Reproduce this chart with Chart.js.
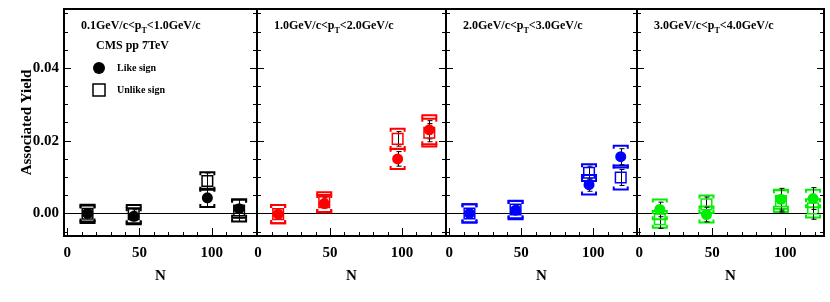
<!DOCTYPE html>
<html>
<head>
<meta charset="utf-8">
<script src="https://cdn.jsdelivr.net/npm/chart.js@4.4.0/dist/chart.umd.min.js"></script>
<style>
  body { margin: 0; background: #fff; width: 830px; height: 302px; position: relative; overflow: hidden; }
  canvas { position: absolute; top: 0; }
</style>
</head>
<body>
<canvas id="c0"></canvas>
<canvas id="c1"></canvas>
<canvas id="c2"></canvas>
<canvas id="c3"></canvas>
<script>
// Data
const N = [14, 46, 97, 119];
const ptBins = [['0.1', '1.0'], ['1.0', '2.0'], ['2.0', '3.0'], ['3.0', '4.0']];
const colors = ['#000000', '#ff0000', '#0000ff', '#00ee00'];
const yTicks = [0, 0.02, 0.04];
const xTicks = [0, 50, 100];

// like sign (filled circles)
const like = [
  [0.0000, -0.0008, 0.0043, 0.0013],
  [-0.0002, 0.0027, 0.0150, 0.0230],
  [0.0000, 0.0009, 0.0079, 0.0156],
  [0.0011, -0.0003, 0.0039, 0.0041]
];
const likeStat = [
  [0.0010, 0.0012, 0.0025, 0.0025],
  [0.0010, 0.0012, 0.0020, 0.0025],
  [0.0010, 0.0010, 0.0018, 0.0022],
  [0.0020, 0.0020, 0.0030, 0.0030]
];
const likeSys = [
  [0.0022, 0.0022, 0.0025, 0.0025],
  [0.0025, 0.0024, 0.0028, 0.0040],
  [0.0025, 0.0025, 0.0027, 0.0030],
  [0.0027, 0.0022, 0.0026, 0.0024]
];

// unlike sign (open squares)
const unlike = [
  [-0.0001, -0.0002, 0.0089, 0.0008],
  [-0.0002, 0.0031, 0.0205, 0.0222],
  [0.0000, 0.0011, 0.0112, 0.0099],
  [-0.0016, 0.0025, 0.0034, 0.0014]
];
const unlikeStat = [
  [0.0010, 0.0012, 0.0022, 0.0030],
  [0.0010, 0.0012, 0.0020, 0.0025],
  [0.0010, 0.0010, 0.0018, 0.0022],
  [0.0025, 0.0020, 0.0030, 0.0030]
];
const unlikeSys = [
  [0.0025, 0.0025, 0.0024, 0.0030],
  [0.0025, 0.0027, 0.0028, 0.0038],
  [0.0025, 0.0024, 0.0023, 0.0033],
  [0.0023, 0.0024, 0.0030, 0.0025]
];

// panel frames in page pixels, and x ranges
const frameL = [64, 257, 446, 637];
const frameR = [257, 446, 637, 824];
const xMin = [-2.3, -0.7, -2.3, -1.6];
const xMax = [131.4, 130.6, 130.3, 126.5];
const yMin = -0.0062, yMax = 0.0562;

const SERIF = '"Liberation Serif", "DejaVu Serif", serif';
const PAD = 30;

function seg(ctx, x1, y1, x2, y2) {
  ctx.beginPath(); ctx.moveTo(x1, y1); ctx.lineTo(x2, y2); ctx.stroke();
}

function drawErrors(ctx, x, y, k, vals, stat, sys) {
  for (let i = 0; i < N.length; i++) {
    const px = x.getPixelForValue(N[i]);
    // systematic brackets
    ctx.strokeStyle = colors[k];
    ctx.lineWidth = 2;
    const yt = y.getPixelForValue(vals[i] + sys[i]);
    const yb = y.getPixelForValue(vals[i] - sys[i]);
    ctx.beginPath();
    ctx.moveTo(px - 7, yt + 3); ctx.lineTo(px - 7, yt); ctx.lineTo(px + 7, yt); ctx.lineTo(px + 7, yt + 3);
    ctx.moveTo(px - 7, yb - 3); ctx.lineTo(px - 7, yb); ctx.lineTo(px + 7, yb); ctx.lineTo(px + 7, yb - 3);
    ctx.stroke();
    // statistical bar
    ctx.strokeStyle = '#000';
    ctx.lineWidth = 1;
    const st = y.getPixelForValue(vals[i] + stat[i]);
    const sb = y.getPixelForValue(vals[i] - stat[i]);
    const cx = Math.round(px) + 0.5;
    seg(ctx, cx, st, cx, sb);
    seg(ctx, cx - 2, st, cx + 3, st);
    seg(ctx, cx - 2, sb, cx + 3, sb);
  }
}

function ptLabel(ctx, x0, yb, lo, hi) {
  ctx.fillStyle = '#000';
  ctx.textBaseline = 'alphabetic';
  ctx.textAlign = 'left';
  ctx.font = 'bold 12px ' + SERIF;
  let s = lo + 'GeV/c<p';
  ctx.fillText(s, x0, yb);
  let w = ctx.measureText(s).width;
  ctx.font = 'bold 8px ' + SERIF;
  ctx.fillText('T', x0 + w, yb + 4);
  w += ctx.measureText('T').width;
  ctx.font = 'bold 12px ' + SERIF;
  ctx.fillText('<' + hi + 'GeV/c', x0 + w, yb);
}

const panelPlugin = {
  id: 'panel',
  beforeDatasetsDraw(chart, args, opts) {
    const k = opts.index;
    const { ctx, chartArea: a, scales: { x, y } } = chart;
    ctx.save();
    ctx.strokeStyle = '#000';
    ctx.lineWidth = 1;
    const y0 = Math.round(y.getPixelForValue(0)) + 0.5;
    seg(ctx, a.left, y0, a.right, y0);
    drawErrors(ctx, x, y, k, unlike[k], unlikeStat[k], unlikeSys[k]);
    drawErrors(ctx, x, y, k, like[k], likeStat[k], likeSys[k]);
    ctx.restore();
  },
  afterDraw(chart, args, opts) {
    const k = opts.index;
    const { ctx, chartArea: a, scales: { x, y } } = chart;
    ctx.save();
    ctx.strokeStyle = '#000';
    ctx.lineWidth = 1;
    // y ticks on both sides, pointing inward
    for (let t = -5; t <= 55; t += 5) {
      const v = t / 1000;
      const py = Math.round(y.getPixelForValue(v)) + 0.5;
      if (py < a.top + 2 || py > a.bottom - 2) continue;
      const len = (t % 20 === 0) ? 7 : 4;
      seg(ctx, a.left, py, a.left + len, py);
      seg(ctx, a.right - len, py, a.right, py);
    }
    // x ticks, pointing up from the bottom
    for (let t = 0; t <= 130; t += 10) {
      const px = Math.round(x.getPixelForValue(t)) + 0.5;
      if (px < a.left + 2 || px > a.right - 2) continue;
      const len = (t % 50 === 0) ? 8 : 4;
      seg(ctx, px, a.bottom, px, a.bottom - len);
    }
    // frame
    ctx.lineWidth = 2;
    ctx.strokeRect(a.left, a.top, a.right - a.left, a.bottom - a.top);

    ptLabel(ctx, a.left + 17, 29, ptBins[k][0], ptBins[k][1]);

    if (k === 0) {
      ctx.fillStyle = '#000';
      ctx.font = 'bold 12px ' + SERIF;
      ctx.textBaseline = 'middle';
      ctx.fillText('CMS pp 7TeV', a.left + 32, 46);
      ctx.beginPath();
      ctx.arc(a.left + 35, 68, 6, 0, Math.PI * 2);
      ctx.fill();
      ctx.lineWidth = 1.5;
      ctx.strokeRect(a.left + 29, 84, 12, 12);
      ctx.font = 'bold 10px ' + SERIF;
      ctx.fillText('Like sign', a.left + 53, 68);
      ctx.fillText('Unlike sign', a.left + 53, 90);
    }
    ctx.restore();
  }
};

function makePanel(k) {
  const canvas = document.getElementById('c' + k);
  const left = k === 0 ? 0 : frameL[k] - PAD;
  const width = frameR[k] + PAD - left;
  canvas.width = width;
  canvas.height = 302;
  canvas.style.left = left + 'px';

  const tickFont = { family: SERIF, size: 15, weight: 'bold' };

  new Chart(canvas, {
    type: 'scatter',
    data: {
      datasets: [
        {
          label: 'Like sign',
          data: N.map((n, i) => ({ x: n, y: like[k][i] })),
          pointStyle: 'circle',
          pointRadius: 5.5,
          pointBackgroundColor: colors[k],
          pointBorderWidth: 0
        },
        {
          label: 'Unlike sign',
          data: N.map((n, i) => ({ x: n, y: unlike[k][i] })),
          pointStyle: 'rect',
          pointRadius: 7.5,
          pointBackgroundColor: 'rgba(0,0,0,0)',
          pointBorderColor: colors[k],
          pointBorderWidth: 1.5
        }
      ]
    },
    options: {
      responsive: false,
      animation: false,
      events: [],
      layout: { padding: { left: k === 0 ? 0 : PAD, right: PAD, top: 5, bottom: 0 } },
      plugins: {
        legend: { display: false },
        tooltip: { enabled: false },
        panel: { index: k }
      },
      scales: {
        x: {
          type: 'linear',
          min: xMin[k],
          max: xMax[k],
          grid: { display: false, drawTicks: false },
          border: { display: false },
          afterBuildTicks: s => { s.ticks = xTicks.map(v => ({ value: v })); },
          afterFit: s => { s.height = 66; s.paddingLeft = 0; s.paddingRight = 0; },
          ticks: { color: '#000', font: tickFont, padding: 8, maxRotation: 0 },
          title: { display: true, text: 'N', color: '#000', font: tickFont, padding: { top: 0, bottom: 17 } }
        },
        y: {
          type: 'linear',
          display: k === 0,
          min: yMin,
          max: yMax,
          grid: { display: false, drawTicks: false },
          border: { display: false },
          afterBuildTicks: s => { s.ticks = yTicks.map(v => ({ value: v })); },
          afterFit: s => { s.width = k === 0 ? 64 : 0; s.paddingTop = 0; s.paddingBottom = 0; },
          ticks: { color: '#000', font: tickFont, padding: 5, callback: v => v.toFixed(2) },
          title: { display: true, text: 'Associated Yield', color: '#000', font: tickFont, padding: { top: 18, bottom: 0 } }
        }
      }
    },
    plugins: [panelPlugin]
  });
}

[0, 1, 2, 3].forEach(makePanel);
</script>
</body>
</html>
